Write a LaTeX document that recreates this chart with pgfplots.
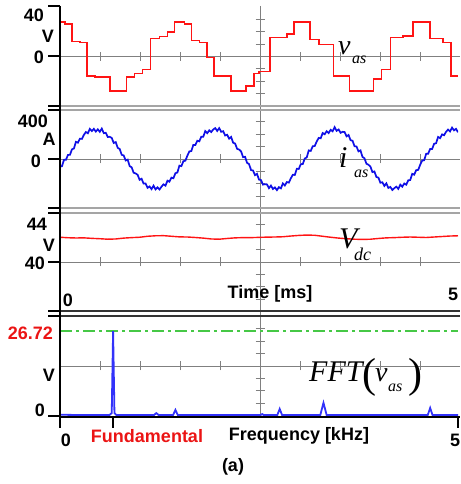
\documentclass[border=0pt]{standalone}
\usepackage{fontspec}
\setmainfont{Liberation Sans}
\newfontfamily\tnr{Liberation Serif}
\usepackage{pgfplots}
\pgfplotsset{compat=1.18}

\definecolor{vred}{RGB}{255,20,20}
\definecolor{iblue}{RGB}{15,15,230}
\definecolor{fblue}{RGB}{50,50,250}
\definecolor{gridgray}{RGB}{128,128,128}
\definecolor{sepgray}{RGB}{165,165,165}
\definecolor{dashgreen}{RGB}{70,200,70}
\definecolor{lblred}{RGB}{235,20,20}

\pgfplotsset{panel/.style={hide axis, scale only axis, width=398pt,
    xmin=0, xmax=5, anchor=south west}}

\newcommand{\lbl}{\fontsize{18}{20}\selectfont\bfseries}
\newcommand{\mi}[1]{\tnr\itshape\fontsize{#1}{#1}\selectfont}

\begin{document}
\begin{tikzpicture}[x=1pt,y=1pt]
\useasboundingbox (0,0) rectangle (460,484);

% grid lines behind the traces
\draw[gridgray, line width=0.9pt] (260,478) -- (260,67);
\foreach \yc in {427.5,325,222,118} {
  \draw[gridgray, line width=0.9pt] (60,\yc) -- (460,\yc);
  \foreach \xt in {100,140,180,220,300,340,380,420}
    \draw[gridgray, line width=0.9pt] (\xt,\yc-4.5) -- (\xt,\yc+4.5);
  \foreach \k in {-3,-2,-1,1,2,3}
    \draw[gridgray, line width=0.9pt] (255.5,\yc+12.4*\k) -- (264.5,\yc+12.4*\k);
}

% v_as
\begin{axis}[panel, at={(60pt,378pt)}, height=99pt, ymin=-40, ymax=40]
\addplot[vred, line width=1.6pt, const plot] coordinates {
  (0,28) (0.0625,26.4) (0.15,12) (0.25,11.2) (0.3375,-16) (0.4375,-16.8)
  (0.625,-28) (0.8375,-16.8) (0.9375,-13.6) (1.0375,-10.4) (1.1375,14.4)
  (1.25,16) (1.35,20) (1.4375,28) (1.5625,26.4) (1.65,12.8) (1.75,11.2)
  (1.85,-0.8) (1.9375,-16) (2.15,-28) (2.3375,-24) (2.4375,-13.6) (2.5,-12)
  (2.6375,15.2) (2.85,18.4) (2.9375,28) (3.1375,13.6) (3.25,9.6)
  (3.4375,-16) (3.6375,-28) (3.9375,-18.4) (4.0375,-10.4) (4.15,15.2)
  (4.3125,16.8) (4.4375,28) (4.65,14.4) (4.8125,11.2) (4.9125,-16) (5,-16)
};
\end{axis}

% i_as
\begin{axis}[panel, at={(60pt,276pt)}, height=98pt, ymin=-400, ymax=400]
\addplot[iblue, line width=1.7pt] coordinates {
  (0,-62) (0.025,-59) (0.05,-7) (0.075,-6) (0.1,33) (0.125,34) (0.15,78) (0.175,86)
  (0.2,140) (0.225,133) (0.25,166) (0.275,164) (0.3,197) (0.325,220) (0.35,210) (0.375,246)
  (0.4,228) (0.425,246) (0.45,224) (0.475,242) (0.5,222) (0.525,248) (0.55,211) (0.575,214)
  (0.6,180) (0.625,181) (0.65,172) (0.675,131) (0.7,138) (0.725,91) (0.75,82) (0.775,34)
  (0.8,29) (0.825,-12) (0.85,-5) (0.875,-58) (0.9,-68) (0.925,-112) (0.95,-118) (0.975,-129)
  (1.0,-170) (1.025,-161) (1.05,-201) (1.075,-200) (1.1,-235) (1.125,-224) (1.15,-246) (1.175,-218)
  (1.2,-248) (1.225,-232) (1.25,-249) (1.275,-226) (1.3,-207) (1.325,-218) (1.35,-177) (1.375,-185)
  (1.4,-152) (1.425,-157) (1.45,-116) (1.475,-110) (1.5,-54) (1.525,-58) (1.55,-18) (1.575,-14)
  (1.6,27) (1.625,62) (1.65,65) (1.675,115) (1.7,114) (1.725,149) (1.75,144) (1.775,182)
  (1.8,182) (1.825,228) (1.85,211) (1.875,234) (1.9,220) (1.925,241) (1.95,252) (1.975,229)
  (2.0,252) (2.025,222) (2.05,227) (2.075,192) (2.1,198) (2.125,166) (2.15,180) (2.175,133)
  (2.2,126) (2.225,83) (2.25,77) (2.275,62) (2.3,15) (2.325,18) (2.35,-31) (2.375,-42)
  (2.4,-90) (2.425,-94) (2.45,-132) (2.475,-121) (2.5,-168) (2.525,-172) (2.55,-209) (2.575,-206)
  (2.6,-207) (2.625,-238) (2.65,-217) (2.675,-245) (2.7,-232) (2.725,-254) (2.75,-230) (2.775,-240)
  (2.8,-199) (2.825,-216) (2.85,-188) (2.875,-193) (2.9,-158) (2.925,-129) (2.95,-130) (2.975,-80)
  (3.0,-81) (3.025,-42) (3.05,-41) (3.075,4) (3.1,13) (3.125,70) (3.15,66) (3.175,104)
  (3.2,106) (3.225,143) (3.25,172) (3.275,169) (3.3,212) (3.325,202) (3.35,227) (3.375,212)
  (3.4,238) (3.425,226) (3.45,260) (3.475,230) (3.5,241) (3.525,214) (3.55,222) (3.575,220)
  (3.6,185) (3.625,196) (3.65,154) (3.675,149) (3.7,104) (3.725,102) (3.75,62) (3.775,70)
  (3.8,17) (3.825,6) (3.85,-39) (3.875,-47) (3.9,-62) (3.925,-107) (3.95,-102) (3.975,-147)
  (4.0,-152) (4.025,-194) (4.05,-190) (4.075,-220) (4.1,-199) (4.125,-236) (4.15,-228) (4.175,-253)
  (4.2,-238) (4.225,-226) (4.25,-244) (4.275,-210) (4.3,-226) (4.325,-200) (4.35,-210) (4.375,-174)
  (4.4,-172) (4.425,-121) (4.45,-128) (4.475,-91) (4.5,-89) (4.525,-47) (4.55,-13) (4.575,-10)
  (4.6,42) (4.625,43) (4.65,82) (4.675,82) (4.7,124) (4.725,129) (4.75,180) (4.775,170)
  (4.8,201) (4.825,194) (4.85,222) (4.875,240) (4.9,225) (4.925,256) (4.95,234) (4.975,246)
  (5.0,218)
};
\end{axis}

% V_dc
\begin{axis}[panel, at={(60pt,173pt)}, height=98pt, ymin=36, ymax=44]
\addplot[vred, line width=1.4pt] coordinates {
  (0,42.02) (0.1,41.98) (0.2,41.96) (0.3,41.97) (0.4,41.93) (0.5,41.90) (0.6,41.86)
  (0.7,41.88) (0.8,41.95) (0.9,41.99) (1.0,42.02) (1.1,42.10) (1.2,42.14) (1.3,42.15)
  (1.4,42.10) (1.5,42.05) (1.6,42.04) (1.7,42.00) (1.8,41.95) (1.9,41.88) (2.0,41.86)
  (2.1,41.92) (2.2,41.97) (2.3,41.99) (2.4,41.99) (2.5,42.01) (2.6,42.03) (2.7,42.04)
  (2.8,42.06) (2.9,42.12) (3.0,42.17) (3.1,42.20) (3.2,42.18) (3.3,42.10) (3.4,42.02)
  (3.5,41.95) (3.6,41.90) (3.7,41.86) (3.8,41.84) (3.9,41.86) (4.0,41.92) (4.1,41.97)
  (4.2,41.99) (4.3,42.02) (4.4,42.04) (4.5,42.02) (4.6,42.00) (4.7,42.04) (4.8,42.08)
  (4.9,42.12) (5.0,42.14)
};
\end{axis}

% FFT(v_as)
\begin{axis}[panel, at={(60pt,67pt)}, height=101pt, ymin=0, ymax=31.4]
\addplot[dashgreen, line width=1.3pt, dash pattern=on 12pt off 4pt on 3pt off 4pt]
  coordinates {(0,26.72) (5,26.72)};
\addplot[fblue, line width=1.8pt] coordinates {
  (0,0.7) (0.3,0.6) (0.62,0.6) (0.65,1.2) (0.667,26.72) (0.684,1.2) (0.71,0.6)
  (1.18,0.6) (1.21,1.2) (1.24,0.6) (1.42,0.6) (1.45,2.2) (1.48,0.6)
  (2.52,0.6) (2.54,0.9) (2.56,0.6) (2.73,0.6) (2.76,2.5) (2.79,0.6)
  (3.27,0.6) (3.31,4.4) (3.35,0.6) (4.62,0.6) (4.65,2.8) (4.68,0.6) (5,0.6)
};
\end{axis}

% panel separators and frame
\foreach \ys in {378,374,276,271}
  \draw[sepgray, line width=1.8pt] (60,\ys) -- (460,\ys);
\foreach \ys in {173,168}
  \draw[black!80, line width=2pt] (60,\ys) -- (460,\ys);
\draw[black, line width=2pt] (60,67) -- (460,67);
\draw[black, line width=2pt] (60,478) -- (60,56);
\foreach \ys in {478,427.5,378,374,325,276,271,222,173,168,68}
  \draw[black, line width=2pt] (48,\ys) -- (60,\ys);
\draw[black, line width=2pt] (113,67) -- (113,56);
\draw[black, line width=2pt] (458,67) -- (458,56);

% axis labels
\node[anchor=east, inner sep=0] at (44,469) {\lbl 40};
\node[inner sep=0] at (48,448) {\lbl V};
\node[anchor=east, inner sep=0] at (44,427) {\lbl 0};
\node[anchor=east, inner sep=0] at (48,363) {\lbl 400};
\node[inner sep=0] at (49,345) {\lbl A};
\node[anchor=east, inner sep=0] at (41,323) {\lbl 0};
\node[anchor=east, inner sep=0] at (47,260) {\lbl 44};
\node[inner sep=0] at (49,239) {\lbl V};
\node[anchor=east, inner sep=0] at (45,221) {\lbl 40};
\node[inner sep=0] at (68,184) {\lbl 0};
\node[inner sep=0] at (270,190) {\lbl Time [ms]};
\node[inner sep=0] at (453,190) {\lbl 5};
\node[anchor=east, inner sep=0, text=lblred] at (53,151) {\lbl 26.72};
\node[inner sep=0] at (49,109) {\lbl V};
\node[anchor=east, inner sep=0] at (45,74) {\lbl 0};
\node[inner sep=0] at (66,44) {\lbl 0};
\node[inner sep=0, text=lblred] at (147,48) {\lbl Fundamental};
\node[inner sep=0] at (299,48) {\lbl Frequency [kHz]};
\node[inner sep=0] at (455,44) {\lbl 5};
\node[inner sep=0] at (233,17) {\lbl (a)};

% trace names
\node[anchor=base west, inner sep=0] at (338,429) {\mi{28}v};
\node[anchor=base west, inner sep=0] at (352,420) {\mi{16}as};
\node[anchor=base west, inner sep=0] at (339,316) {\mi{30}i};
\node[anchor=base west, inner sep=0] at (354,306) {\mi{16}as};
\node[anchor=base west, inner sep=0] at (339,235) {\mi{30}V};
\node[anchor=base west, inner sep=0] at (354,223) {\mi{18}dc};
\node[anchor=base west, inner sep=0] at (309,102) {\mi{30}FFT};
\node[anchor=base west, inner sep=0] at (362,96) {\tnr\fontsize{42}{42}\selectfont (};
\node[anchor=base west, inner sep=0] at (375,102) {\mi{28}v};
\node[anchor=base west, inner sep=0] at (388,92) {\mi{16}as};
\node[anchor=base west, inner sep=0] at (408,96) {\tnr\fontsize{42}{42}\selectfont )};
\end{tikzpicture}
\end{document}
